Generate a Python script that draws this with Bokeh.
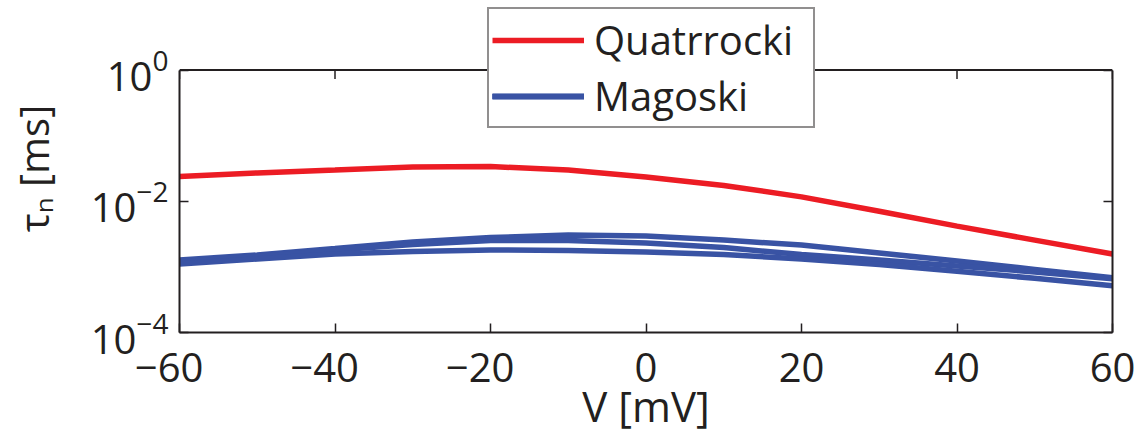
import math
from bokeh.plotting import figure
from bokeh.models import (FixedTicker, LogAxis, Range1d, Legend, LegendItem, Span,
                          ColumnDataSource, CustomJSTickFormatter, LogTickFormatter)
from bokeh.embed import file_html
from bokeh.resources import INLINE

# ---- data ----
V = [-60, -50, -40, -30, -20, -10, 0, 10, 20, 30, 40, 50, 60]
quatrrocki = [0.02393, 0.02704, 0.02999, 0.03334, 0.03388, 0.02999, 0.02350,
              0.01746, 0.01169, 0.00705, 0.00418, 0.00256, 0.00157]
magoski_1 = [0.001276, 0.001521, 0.001905, 0.002393, 0.002799, 0.003055, 0.002951,
             0.002564, 0.002153, 0.001629, 0.001233, 0.000916, 0.000681]
magoski_2 = [0.001191, 0.001442, 0.001811, 0.002193, 0.002523, 0.002523, 0.002312,
             0.001972, 0.001545, 0.001276, 0.001035, 0.000839, 0.000658]
magoski_3 = [0.001109, 0.001321, 0.001574, 0.001718, 0.001811, 0.001778, 0.001687,
             0.001545, 0.001321, 0.001091, 0.000855, 0.000670, 0.000515]
series_labels = ["Quatrrocki", "Magoski"]
x_ticks = [-60, -40, -20, 0, 20, 40, 60]
y_ticks = [1e-4, 1e-2, 1e0]
X_RANGE = (-60, 60)
Y_RANGE = (1e-4, 1e0)
x_title = "V [mV]"
y_title = "\u03c4\u2099 [ms]"

FONT = "Open Sans"
INK = "#231F20"
RED = "#EC1C24"
BLUE = "#3953A4"

# the frame reaches one decade above the axes box so the legend can sit on its top edge
HEADROOM = 10.0
p = figure(width=1135, height=436,
           x_range=Range1d(*X_RANGE), y_range=Range1d(Y_RANGE[0], Y_RANGE[1] * HEADROOM),
           y_axis_type="log", output_backend="svg", toolbar_location=None,
           min_border_left=179, min_border_right=23,
           min_border_top=4, min_border_bottom=102)
p.outline_line_color = None
p.grid.visible = False
p.background_fill_color = "white"
p.border_fill_color = "white"

blank = CustomJSTickFormatter(code="return ''")


def style_axis(ax, ticks):
    ax.ticker = FixedTicker(ticks=ticks, minor_ticks=[])
    ax.axis_line_color = INK
    ax.axis_line_width = 2
    ax.major_tick_line_color = INK
    ax.major_tick_line_width = 1.5
    ax.major_tick_in = 9
    ax.major_tick_out = 0
    ax.minor_tick_line_color = None
    ax.major_label_text_font = FONT
    ax.major_label_text_color = INK
    ax.axis_label_text_font = FONT
    ax.axis_label_text_color = INK
    ax.axis_label_text_font_style = "normal"


# bottom axis: digits centred on the tick, minus sign hanging to the left
xa = p.xaxis[0]
style_axis(xa, x_ticks)
xa.major_label_overrides = {
    v: ("\u2212" + str(abs(v)) + "\u00a0\u00a0") if v < 0 else str(v) for v in x_ticks}
xa.major_label_text_font_size = "40px"
xa.major_label_standoff = 6
xa.axis_label = x_title
xa.axis_label_text_font_size = "42px"
xa.axis_label_standoff = -20

ya = p.yaxis[0]
style_axis(ya, y_ticks)
ya.bounds = Y_RANGE
ya.formatter = LogTickFormatter()
ya.major_label_text_font_size = "40px"
ya.major_label_standoff = 11
ya.axis_label = y_title
ya.axis_label_text_font_size = "40px"
ya.axis_label_standoff = 27

ra = LogAxis()
style_axis(ra, y_ticks)
ra.bounds = Y_RANGE
ra.formatter = blank
ra.major_label_standoff = 0
ra.major_label_text_font_size = "1px"
p.add_layout(ra, "right")

# top edge of the axes box, with inward ticks
p.add_layout(Span(location=Y_RANGE[1], dimension="width",
                  line_color=INK, line_width=2))
p.ray(x=x_ticks, y=[Y_RANGE[1]] * len(x_ticks), length=9, length_units="screen",
      angle=-math.pi / 2, line_color=INK, line_width=1.5)

src = ColumnDataSource(dict(v=V, q=quatrrocki, m1=magoski_1, m2=magoski_2, m3=magoski_3))
r_m = [p.line("v", c, source=src, line_color=BLUE, line_width=5.5)
       for c in ("m1", "m2", "m3")]
r_q = p.line("v", "q", source=src, line_color=RED, line_width=5.5)

legend = Legend(items=[LegendItem(label=series_labels[0], renderers=[r_q]),
                       LegendItem(label=series_labels[1], renderers=r_m)],
                location=(308, 204), orientation="vertical",
                label_text_font=FONT, label_text_font_size="40px",
                label_text_color=INK, label_standoff=10,
                glyph_width=92, glyph_height=40, label_height=40, label_width=216,
                spacing=1, padding=3, margin=0,
                border_line_color=INK, border_line_width=2,
                background_fill_color="white", background_fill_alpha=1.0)
p.add_layout(legend)

open("out.html", "w").write(file_html(p, INLINE))
